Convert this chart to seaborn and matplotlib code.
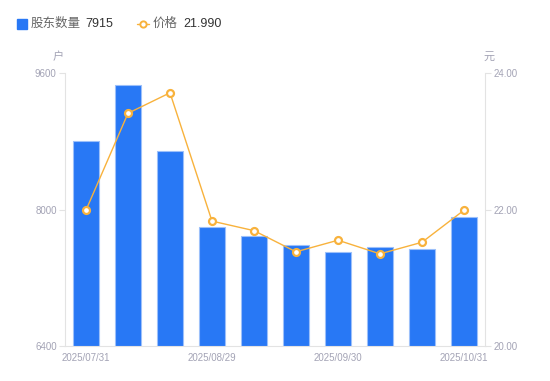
import numpy as np
import pandas as pd
import matplotlib.pyplot as plt
import seaborn as sns

# data
dates = ["2025/07/31", "2025/08/10", "2025/08/20", "2025/08/29", "2025/09/10",
         "2025/09/19", "2025/09/30", "2025/10/10", "2025/10/20", "2025/10/31"]
holders = [8800, 9460, 8690, 7795, 7690, 7585, 7500, 7560, 7535, 7915]
price = [21.99, 23.41, 23.71, 21.83, 21.69, 21.38, 21.55, 21.35, 21.52, 21.99]
shown_ticks = [0, 3, 6, 9]

df = pd.DataFrame({"date": dates, "holders": holders, "price": price, "idx": range(len(dates))})

sns.set_style("white")
plt.rcParams['font.family'] = ['Liberation Sans', 'Noto Sans CJK SC', 'DejaVu Sans']

BLUE = "#2878f5"
ORANGE = "#f8b23c"
TICK = "#a3a3b5"
AXIS = "#e3e3e3"

fig = plt.figure(figsize=(5.5, 3.81), dpi=100)
ax = fig.add_axes([65 / 550, 35 / 381, 420 / 550, 273 / 381])

sns.barplot(data=df, x="idx", y="holders", color=BLUE, width=0.6, ax=ax,
            saturation=1, edgecolor="#9cc0fa", linewidth=0.8)
ax.set_ylim(6400, 9600)
ax.set_yticks([6400, 8000, 9600])
ax.set_xlim(-0.5, len(dates) - 0.5)
ax.set_xticks(shown_ticks)
ax.set_xticklabels([dates[i] for i in shown_ticks])
ax.set_xlabel("")
ax.set_ylabel("")

ax2 = ax.twinx()
sns.lineplot(data=df, x="idx", y="price", color=ORANGE, linewidth=1.0, ax=ax2,
             marker="o", markersize=5, markerfacecolor="white",
             markeredgecolor=ORANGE, markeredgewidth=1.6)
ax2.set_ylim(20, 24)
ax2.set_yticks([20, 22, 24])
ax2.set_yticklabels(["20.00", "22.00", "24.00"])
ax2.set_ylabel("")
ax2.set_xlabel("")
ax2.set_xlim(-0.5, len(dates) - 0.5)

for a in (ax, ax2):
    for s in a.spines.values():
        s.set_visible(False)
ax.spines["left"].set_visible(True)
ax.spines["left"].set_color(AXIS)
ax.spines["bottom"].set_visible(True)
ax.spines["bottom"].set_color(AXIS)
ax2.spines["right"].set_visible(True)
ax2.spines["right"].set_color(AXIS)

ax.tick_params(axis="y", colors=AXIS, labelcolor=TICK, labelsize=7, length=4, width=0.8, pad=2)
ax.tick_params(axis="x", length=0, labelcolor=TICK, labelsize=7, pad=5)
ax2.tick_params(axis="y", colors=AXIS, labelcolor=TICK, labelsize=7, length=4, width=0.8, pad=2)

fig.text(58 / 550, 1 - 57 / 381, "户", color=TICK, fontsize=8, ha="center", va="center")
fig.text(489 / 550, 1 - 57 / 381, "元", color=TICK, fontsize=8, ha="center", va="center")

# legend
ly = 1 - 24 / 381
fig.lines.append(plt.Line2D([21.5 / 550], [ly], transform=fig.transFigure, linestyle="none",
                            marker="s", markersize=6.5, color=BLUE))
fig.text(31 / 550, ly, "股东数量", color="#666666", fontsize=9, va="center")
fig.text(85 / 550, ly, f"{holders[-1]}", color="#333333", fontsize=9, va="center")
fig.lines.append(plt.Line2D([137 / 550, 149 / 550], [ly] * 2, transform=fig.transFigure,
                            color=ORANGE, linewidth=1.0))
fig.lines.append(plt.Line2D([143 / 550], [ly], transform=fig.transFigure, linestyle="none",
                            marker="o", markersize=4.5, markerfacecolor="white",
                            markeredgecolor=ORANGE, markeredgewidth=1.4))
fig.text(153 / 550, ly, "价格", color="#666666", fontsize=9, va="center")
fig.text(183 / 550, ly, f"{price[-1]:.3f}", color="#333333", fontsize=9, va="center")

fig.savefig("out.png", dpi=100)
